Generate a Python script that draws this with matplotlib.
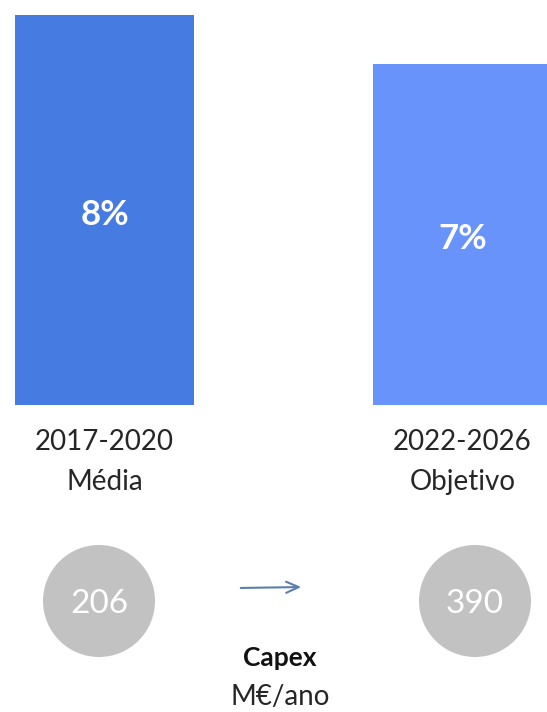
import matplotlib
matplotlib.use("Agg")
import matplotlib.pyplot as plt
from matplotlib.patches import Circle

# Data
periods = ["2017-2020", "2022-2026"]
period_notes = ["Média", "Objetivo"]
margin_pct = [8, 7]
capex = [206, 390]
capex_title = "Capex"
capex_unit = "M€/ano"

bar_colors = ["#467be2", "#6893fb"]
circle_color = "#c2c2c2"
text_color = "#262626"
font = ["Lato", "DejaVu Sans"]

W, H = 547, 712
fig = plt.figure(figsize=(W / 100, H / 100), dpi=100)
fig.patch.set_facecolor("white")

# Bar axes: x in pixels, y in percent, baseline at y=405px, top of 8% at y=15px
base_px, top_px = 405, 15
ax = fig.add_axes([0, (H - base_px) / H, 1, (base_px - top_px) / H])
ax.set_xlim(0, W)
ax.set_ylim(0, max(margin_pct))
ax.axis("off")

bar_x = [104.5, 462.5]
bar_w = 179
bars = ax.bar(bar_x, margin_pct, width=bar_w, color=bar_colors, linewidth=0)
for x, v in zip(bar_x, margin_pct):
    ax.text(x, v / 2 - 0.1, f"{v}%", ha="center", va="center",
            color="white", fontsize=25, fontweight="bold", family=font)

# Overlay axes in pixel coordinates for the labels and capex badges
ov = fig.add_axes([0, 0, 1, 1])
ov.set_xlim(0, W)
ov.set_ylim(H, 0)
ov.axis("off")

for x, p, n in zip(bar_x, periods, period_notes):
    ov.text(x, 450, p, ha="center", va="baseline", fontsize=20,
            color=text_color, family=font)
    ov.text(x, 490, n, ha="center", va="baseline", fontsize=20,
            color=text_color, family=font)

circle_x = [99, 475]
circle_y = 601
for cx, v in zip(circle_x, capex):
    ov.add_patch(Circle((cx, circle_y), 56, color=circle_color, linewidth=0))
    ov.text(cx, circle_y + 3, f"{v}", ha="center", va="center", fontsize=24,
            color="white", family=font)

ov.annotate("", xy=(304, 587), xytext=(238, 588),
            arrowprops=dict(arrowstyle="->,head_length=0.9,head_width=0.4",
                            color="#5a7fae", lw=1.5))

ov.text(280, 666, capex_title, ha="center", va="baseline", fontsize=19,
        fontweight="bold", color="#111111", family=font)
ov.text(280, 705, capex_unit, ha="center", va="baseline", fontsize=20,
        color=text_color, family=font)

fig.savefig("out.png", dpi=100, facecolor="white")
